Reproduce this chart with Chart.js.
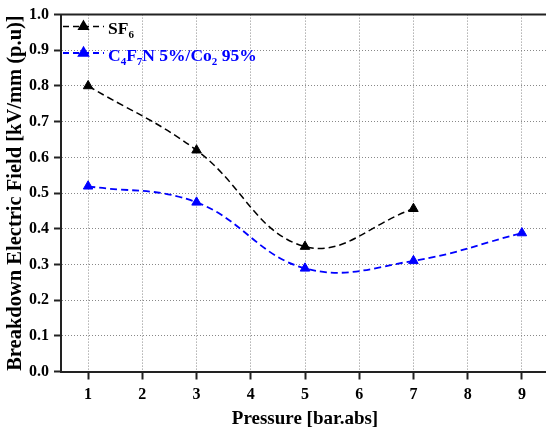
<!DOCTYPE html>
<html>
<head>
<meta charset="utf-8">
<script src="https://cdn.jsdelivr.net/npm/chart.js@4/dist/chart.umd.min.js"></script>
<style>
html, body { margin: 0; padding: 0; background: #fff; overflow: hidden; }
#wrap { width: 556px; height: 432px; }
</style>
</head>
<body>
<div id="wrap"><canvas id="chart" width="556" height="432"></canvas></div>
<script>
// breakdown field vs pressure
const pressureSF6 = [1, 3, 5, 7];
const fieldSF6 = [0.80, 0.62, 0.35, 0.456];
const pressureMix = [1, 3, 5, 7, 9];
const fieldMix = [0.519, 0.474, 0.289, 0.31, 0.388];
const xTicks = [1, 2, 3, 4, 5, 6, 7, 8, 9];

// legend text pieces: [text, isSubscript]
const sf6Label = [['SF', 0], ['6', 1]];
const mixLabel = [['C', 0], ['4', 1], ['F', 0], ['7', 1], ['N 5%/Co', 0], ['2', 1], [' 95%', 0]];

const FONT = "'Liberation Serif', 'Times New Roman', serif";

const toPoints = (xs, ys) => xs.map((x, i) => ({ x: x, y: ys[i] }));

// box top edge + legend with subscripts
const extras = {
    id: 'extras',
    afterDraw(chart) {
        const ctx = chart.ctx;
        const a = chart.chartArea;
        ctx.save();
        ctx.strokeStyle = '#222';
        ctx.lineWidth = 2;
        ctx.beginPath();
        ctx.moveTo(a.left - 1, a.top);
        ctx.lineTo(a.right, a.top);
        ctx.stroke();

        const rows = [
            { parts: sf6Label, ds: chart.data.datasets[0], y: 26.5 },
            { parts: mixLabel, ds: chart.data.datasets[1], y: 53 }
        ];
        rows.forEach(r => {
            ctx.strokeStyle = r.ds.borderColor;
            ctx.lineWidth = r.ds.borderWidth;
            ctx.setLineDash([6, 4]);
            ctx.beginPath();
            ctx.moveTo(63, r.y);
            ctx.lineTo(104, r.y);
            ctx.stroke();
            ctx.setLineDash([]);
            ctx.fillStyle = r.ds.pointBackgroundColor;
            Chart.helpers.drawPoint(ctx, { pointStyle: 'triangle', radius: 5.5, borderWidth: 1 }, 83.5, r.y);
            ctx.fill();
            let x = 108;
            const base = r.y + 7.5;
            ctx.textBaseline = 'alphabetic';
            r.parts.forEach(([t, sub]) => {
                ctx.font = sub ? 'bold 11px ' + FONT : 'bold 17.5px ' + FONT;
                ctx.fillText(t, x, sub ? base + 4 : base);
                x += ctx.measureText(t).width;
            });
        });
        ctx.restore();
    }
};

new Chart(document.getElementById('chart'), {
    type: 'line',
    data: {
        datasets: [{
            label: 'SF6',
            data: toPoints(pressureSF6, fieldSF6),
            borderColor: '#000',
            backgroundColor: '#000',
            pointBackgroundColor: '#000',
            pointBorderColor: '#000',
            borderWidth: 1.5,
            borderDash: [7, 4],
            tension: 0.4,
            pointStyle: 'triangle',
            pointRadius: 5.5,
            pointBorderWidth: 1
        }, {
            label: 'C4F7N 5%/Co2 95%',
            data: toPoints(pressureMix, fieldMix),
            borderColor: '#0000ff',
            backgroundColor: '#0000ff',
            pointBackgroundColor: '#0000ff',
            pointBorderColor: '#0000ff',
            borderWidth: 1.8,
            borderDash: [7, 4],
            tension: 0.4,
            pointStyle: 'triangle',
            pointRadius: 5.5,
            pointBorderWidth: 1
        }]
    },
    options: {
        responsive: false,
        animation: false,
        layout: { padding: { top: 13, right: 7, left: 0, bottom: 0 } },
        plugins: { legend: { display: false }, tooltip: { enabled: false } },
        scales: {
            x: {
                type: 'linear',
                min: 0.5,
                max: 9.5,
                afterBuildTicks: s => { s.ticks = xTicks.map(v => ({ value: v })); },
                afterFit: s => { s.height = 60.5; },
                ticks: {
                    color: '#000',
                    padding: 6,
                    font: { family: FONT, size: 16, weight: 'bold' }
                },
                grid: {
                    color: '#888',
                    lineWidth: 1,
                    tickColor: '#222',
                    tickWidth: 2,
                    tickLength: 8,
                    tickBorderDash: []
                },
                border: { color: '#222', width: 2, dash: [1, 2] },
                title: {
                    display: true,
                    text: 'Pressure [bar.abs]',
                    color: '#000',
                    padding: { top: 0, bottom: 2 },
                    font: { family: FONT, size: 19, weight: 'bold' }
                }
            },
            y: {
                min: 0,
                max: 1,
                afterFit: s => { s.width = 61; },
                ticks: {
                    stepSize: 0.1,
                    color: '#000',
                    padding: 5,
                    callback: v => v.toFixed(1),
                    font: { family: FONT, size: 16, weight: 'bold' }
                },
                grid: {
                    color: '#888',
                    lineWidth: 1,
                    tickColor: '#222',
                    tickWidth: 2,
                    tickLength: 7,
                    tickBorderDash: []
                },
                border: { color: '#222', width: 2, dash: [1, 2] },
                title: {
                    display: true,
                    text: 'Breakdown Electric Field [kV/mm (p.u)]',
                    color: '#000',
                    padding: { top: 3, bottom: 0 },
                    font: { family: FONT, size: 20.5, weight: 'bold' }
                }
            }
        }
    },
    plugins: [extras]
});
</script>
</body>
</html>
